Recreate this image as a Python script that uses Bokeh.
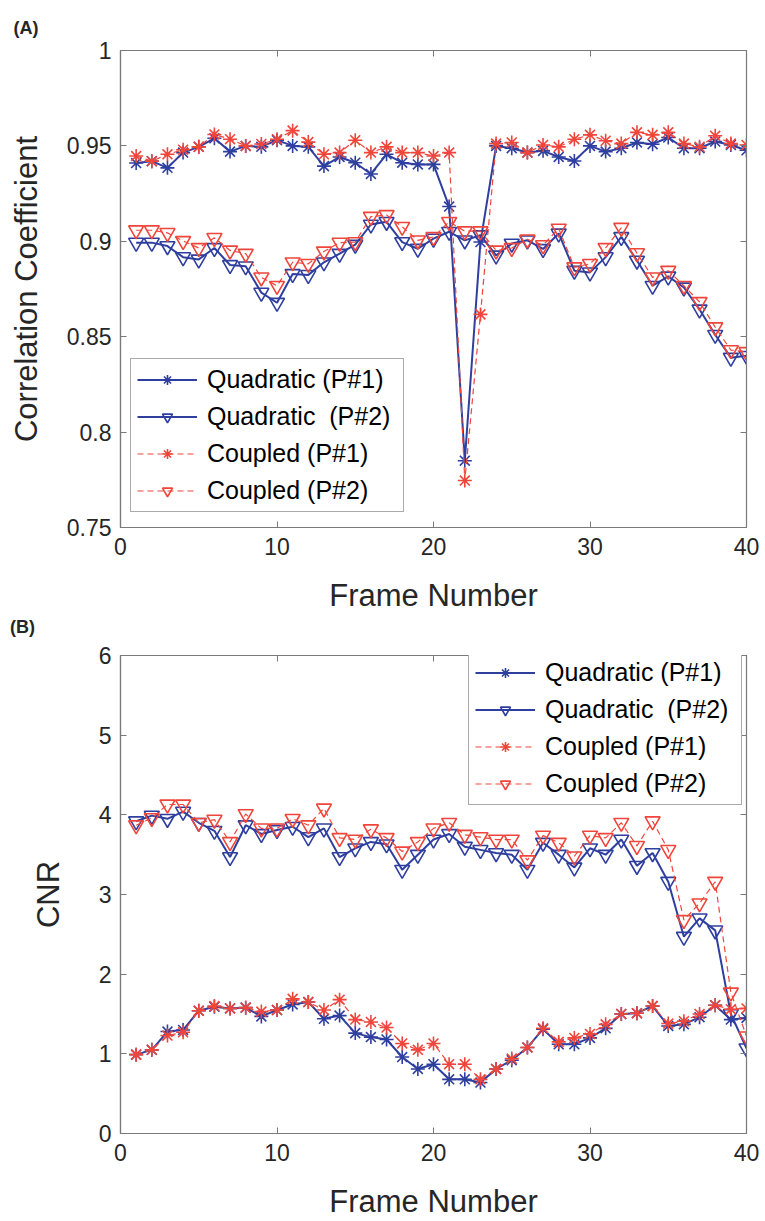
from bokeh.plotting import figure
from bokeh.layouts import column
from bokeh.models import Range1d, FixedTicker, LinearAxis, Legend, LegendItem, CustomJSTickFormatter, Div
from bokeh.embed import file_html
from bokeh.resources import INLINE

frames = list(range(1, 41))

# Panel A: correlation coefficient
corr_quad_p1 = [0.941, 0.942, 0.9385, 0.9465, 0.9495, 0.954, 0.947, 0.950, 0.9495, 0.953,
                0.950, 0.9495, 0.9394, 0.9442, 0.9412, 0.9353, 0.9456, 0.9412, 0.9403, 0.9403,
                0.9182, 0.785, 0.8996, 0.950, 0.9488, 0.9465, 0.9474, 0.9442, 0.9421, 0.950,
                0.947, 0.9488, 0.9518, 0.9509, 0.9544, 0.9488, 0.9488, 0.9523, 0.9505, 0.9477]
corr_quad_p2 = [0.8993, 0.8993, 0.8975, 0.8917, 0.8905, 0.8965, 0.8876, 0.8869, 0.8731, 0.8678,
                0.8829, 0.8824, 0.889, 0.8935, 0.8982, 0.9088, 0.9102, 0.8996, 0.8961, 0.9014,
                0.905, 0.9005, 0.9032, 0.8926, 0.8988, 0.9005, 0.896, 0.9041, 0.8846, 0.8837,
                0.8917, 0.9023, 0.8899, 0.8767, 0.8816, 0.8758, 0.8643, 0.851, 0.839, 0.840]
corr_coup_p1 = [0.9447, 0.942, 0.9456, 0.948, 0.9495, 0.956, 0.9535, 0.950, 0.951, 0.9535,
                0.958, 0.952, 0.9456, 0.9465, 0.953, 0.9465, 0.9495, 0.9465, 0.9465, 0.9447,
                0.9465, 0.7746, 0.8617, 0.9512, 0.9518, 0.9465, 0.9505, 0.9495, 0.9535, 0.9558,
                0.9527, 0.9512, 0.9571, 0.9558, 0.9571, 0.9512, 0.9495, 0.9553, 0.9512, 0.9505]
corr_coup_p2 = [0.9058, 0.9058, 0.9044, 0.9002, 0.8965, 0.9018, 0.8952, 0.8935, 0.8811, 0.8767,
                0.889, 0.8882, 0.8947, 0.8993, 0.8996, 0.9129, 0.9138, 0.9076, 0.9005, 0.9023,
                0.9102, 0.9053, 0.9053, 0.8952, 0.8965, 0.901, 0.898, 0.9067, 0.8864, 0.8882,
                0.8965, 0.9071, 0.8938, 0.8811, 0.8846, 0.8767, 0.8682, 0.855, 0.843, 0.842]

# Panel B: CNR
cnr_quad_p1 = [0.99, 1.05, 1.28, 1.30, 1.54, 1.59, 1.57, 1.58, 1.47, 1.55,
               1.62, 1.65, 1.44, 1.48, 1.26, 1.21, 1.18, 0.96, 0.81, 0.87,
               0.68, 0.68, 0.64, 0.81, 0.92, 1.08, 1.31, 1.12, 1.12, 1.20,
               1.32, 1.50, 1.51, 1.60, 1.35, 1.37, 1.46, 1.61, 1.43, 1.45]
cnr_quad_p2 = [3.92, 3.99, 3.95, 4.04, 3.90, 3.80, 3.47, 3.87, 3.76, 3.81,
               3.85, 3.72, 3.83, 3.47, 3.58, 3.66, 3.63, 3.31, 3.50, 3.69,
               3.76, 3.60, 3.56, 3.52, 3.50, 3.31, 3.65, 3.50, 3.34, 3.58,
               3.50, 3.69, 3.36, 3.52, 3.16, 2.47, 2.70, 2.55, 1.50, 1.07]
cnr_coup_p1 = [0.99, 1.05, 1.23, 1.27, 1.54, 1.60, 1.57, 1.58, 1.53, 1.55,
               1.69, 1.65, 1.55, 1.68, 1.43, 1.40, 1.33, 1.13, 1.05, 1.13,
               0.87, 0.87, 0.68, 0.81, 0.94, 1.08, 1.32, 1.15, 1.20, 1.25,
               1.37, 1.50, 1.51, 1.60, 1.38, 1.41, 1.50, 1.61, 1.56, 1.57]
cnr_coup_p2 = [3.87, 3.96, 4.13, 4.13, 3.90, 3.94, 3.66, 4.01, 3.83, 3.83,
               3.95, 3.87, 4.08, 3.71, 3.69, 3.82, 3.71, 3.54, 3.66, 3.83,
               3.90, 3.75, 3.72, 3.69, 3.69, 3.43, 3.74, 3.65, 3.48, 3.74,
               3.71, 3.90, 3.61, 3.92, 3.56, 2.68, 2.89, 3.16, 1.77, 1.22]

x_ticks = [0, 10, 20, 30, 40]
a_ticks = [0.75, 0.8, 0.85, 0.9, 0.95, 1.0]
a_tick_labels = ["0.75", "0.8", "0.85", "0.9", "0.95", "1"]
b_ticks = [0, 1, 2, 3, 4, 5, 6]
b_tick_labels = ["0", "1", "2", "3", "4", "5", "6"]

series_labels = ["Quadratic (P#1)", "Quadratic  (P#2)", "Coupled (P#1)", "Coupled (P#2)"]

FONT = "Liberation Sans"
BLUE = "#2f3f9f"
RED = "#f0453a"
AXC = "#7a7a7a"
TXT = "#262626"


def style(p, yticks, ylabels, xlabel, ylabel, ylab_standoff, xlab_standoff):
    p.xgrid.visible = False
    p.ygrid.visible = False
    p.outline_line_color = AXC
    p.outline_line_width = 1.2
    p.background_fill_color = "white"
    p.border_fill_color = "white"
    p.xaxis.ticker = FixedTicker(ticks=x_ticks)
    p.yaxis.ticker = FixedTicker(ticks=yticks)
    p.yaxis.major_label_overrides = {t: l for t, l in zip(yticks, ylabels)}
    p.xaxis.major_label_overrides = {t: str(t) for t in x_ticks}
    for ax in (p.xaxis[0], p.yaxis[0]):
        ax.axis_line_color = AXC
        ax.axis_line_width = 1.2
        ax.major_tick_line_color = AXC
        ax.major_tick_in = 6
        ax.major_tick_out = 0
        ax.minor_tick_in = 0
        ax.minor_tick_out = 0
        ax.major_label_text_font = FONT
        ax.major_label_text_font_size = "23px"
        ax.major_label_text_color = TXT
        ax.axis_label_text_font = FONT
        ax.axis_label_text_font_size = "31px"
        ax.axis_label_text_font_style = "normal"
        ax.axis_label_text_color = TXT
    p.xaxis.axis_label = xlabel
    p.yaxis.axis_label = ylabel
    p.xaxis.major_label_standoff = 10
    p.xaxis.axis_label_standoff = xlab_standoff
    p.yaxis.major_label_standoff = 9
    p.yaxis.axis_label_standoff = ylab_standoff
    blank = CustomJSTickFormatter(code="return ''")
    top = LinearAxis(ticker=FixedTicker(ticks=x_ticks), formatter=blank,
                     axis_line_color=AXC, major_tick_line_color=AXC, major_tick_in=6,
                     major_tick_out=0, minor_tick_in=0, minor_tick_out=0,
                     major_label_standoff=0, major_label_text_font_size="1px")
    right = LinearAxis(ticker=FixedTicker(ticks=yticks), formatter=blank,
                       axis_line_color=AXC, major_tick_line_color=AXC, major_tick_in=6,
                       major_tick_out=0, minor_tick_in=0, minor_tick_out=0,
                       major_label_standoff=0, major_label_text_font_size="1px")
    p.add_layout(top, "above")
    p.add_layout(right, "right")


def draw(p, data, legend_x, legend_y):
    items = []
    specs = [
        (data[0], BLUE, "solid", 2.0, "asterisk", 14),
        (data[1], BLUE, "solid", 2.0, "inverted_triangle", 15),
        (data[2], RED, "6 4", 1.2, "asterisk", 14),
        (data[3], RED, "6 4", 1.2, "inverted_triangle", 15),
    ]
    for (ys, col, dash, lw, mk, sz), lab in zip(specs, series_labels):
        r1 = p.line(frames, ys, line_color=col, line_width=lw, line_dash=dash)
        r2 = p.scatter(frames, ys, marker=mk, size=sz, line_color=col, fill_alpha=0,
                       line_width=1.6)
        items.append(LegendItem(label=lab, renderers=[r1, r2]))
    leg = Legend(items=items, location=(legend_x, legend_y), label_text_font=FONT,
                 label_text_font_size="25px", label_text_color="black",
                 glyph_width=60, glyph_height=25, label_height=25, label_width=190,
                 spacing=8, padding=6, label_standoff=10, border_line_color="#555555",
                 border_line_width=1.2, background_fill_color="white", background_fill_alpha=1)
    p.add_layout(leg, "center")


# Panel A
pA = figure(width=765, height=615, output_backend="svg", toolbar_location=None,
            x_range=Range1d(0, 40), y_range=Range1d(0.75, 1.0),
            min_border_left=120, min_border_right=19, min_border_top=50, min_border_bottom=88)
style(pA, a_ticks, a_tick_labels, "Frame Number", "Correlation Coefficient", 20, 20)
draw(pA, [corr_quad_p1, corr_quad_p2, corr_coup_p1, corr_coup_p2], 10, 15)
pA.title.text = "(A)"
pA.title.align = "left"
pA.title.offset = -107
pA.title.standoff = 26
pA.title.text_font = FONT
pA.title.text_font_size = "18px"
pA.title.text_font_style = "bold"
pA.title.text_color = TXT

# label of panel B, between the two figures
label_b = Div(text="(B)", width=765, height=25, margin=(0, 0, 0, 0),
              styles={"font-family": FONT, "font-size": "18px", "font-weight": "bold",
                      "color": TXT, "padding-left": "10px", "line-height": "25px"})

# Panel B
pB = figure(width=765, height=581, output_backend="svg", toolbar_location=None,
            x_range=Range1d(0, 40), y_range=Range1d(0, 6),
            min_border_left=114, min_border_right=18, min_border_top=15, min_border_bottom=88)
style(pB, b_ticks, b_tick_labels, "Frame Number", "CNR", 30, 20)
draw(pB, [cnr_quad_p1, cnr_quad_p2, cnr_coup_p1, cnr_coup_p2], 348, 328)

layout = column(pA, label_b, pB, spacing=0)
open("out.html", "w").write(file_html(layout, INLINE))
